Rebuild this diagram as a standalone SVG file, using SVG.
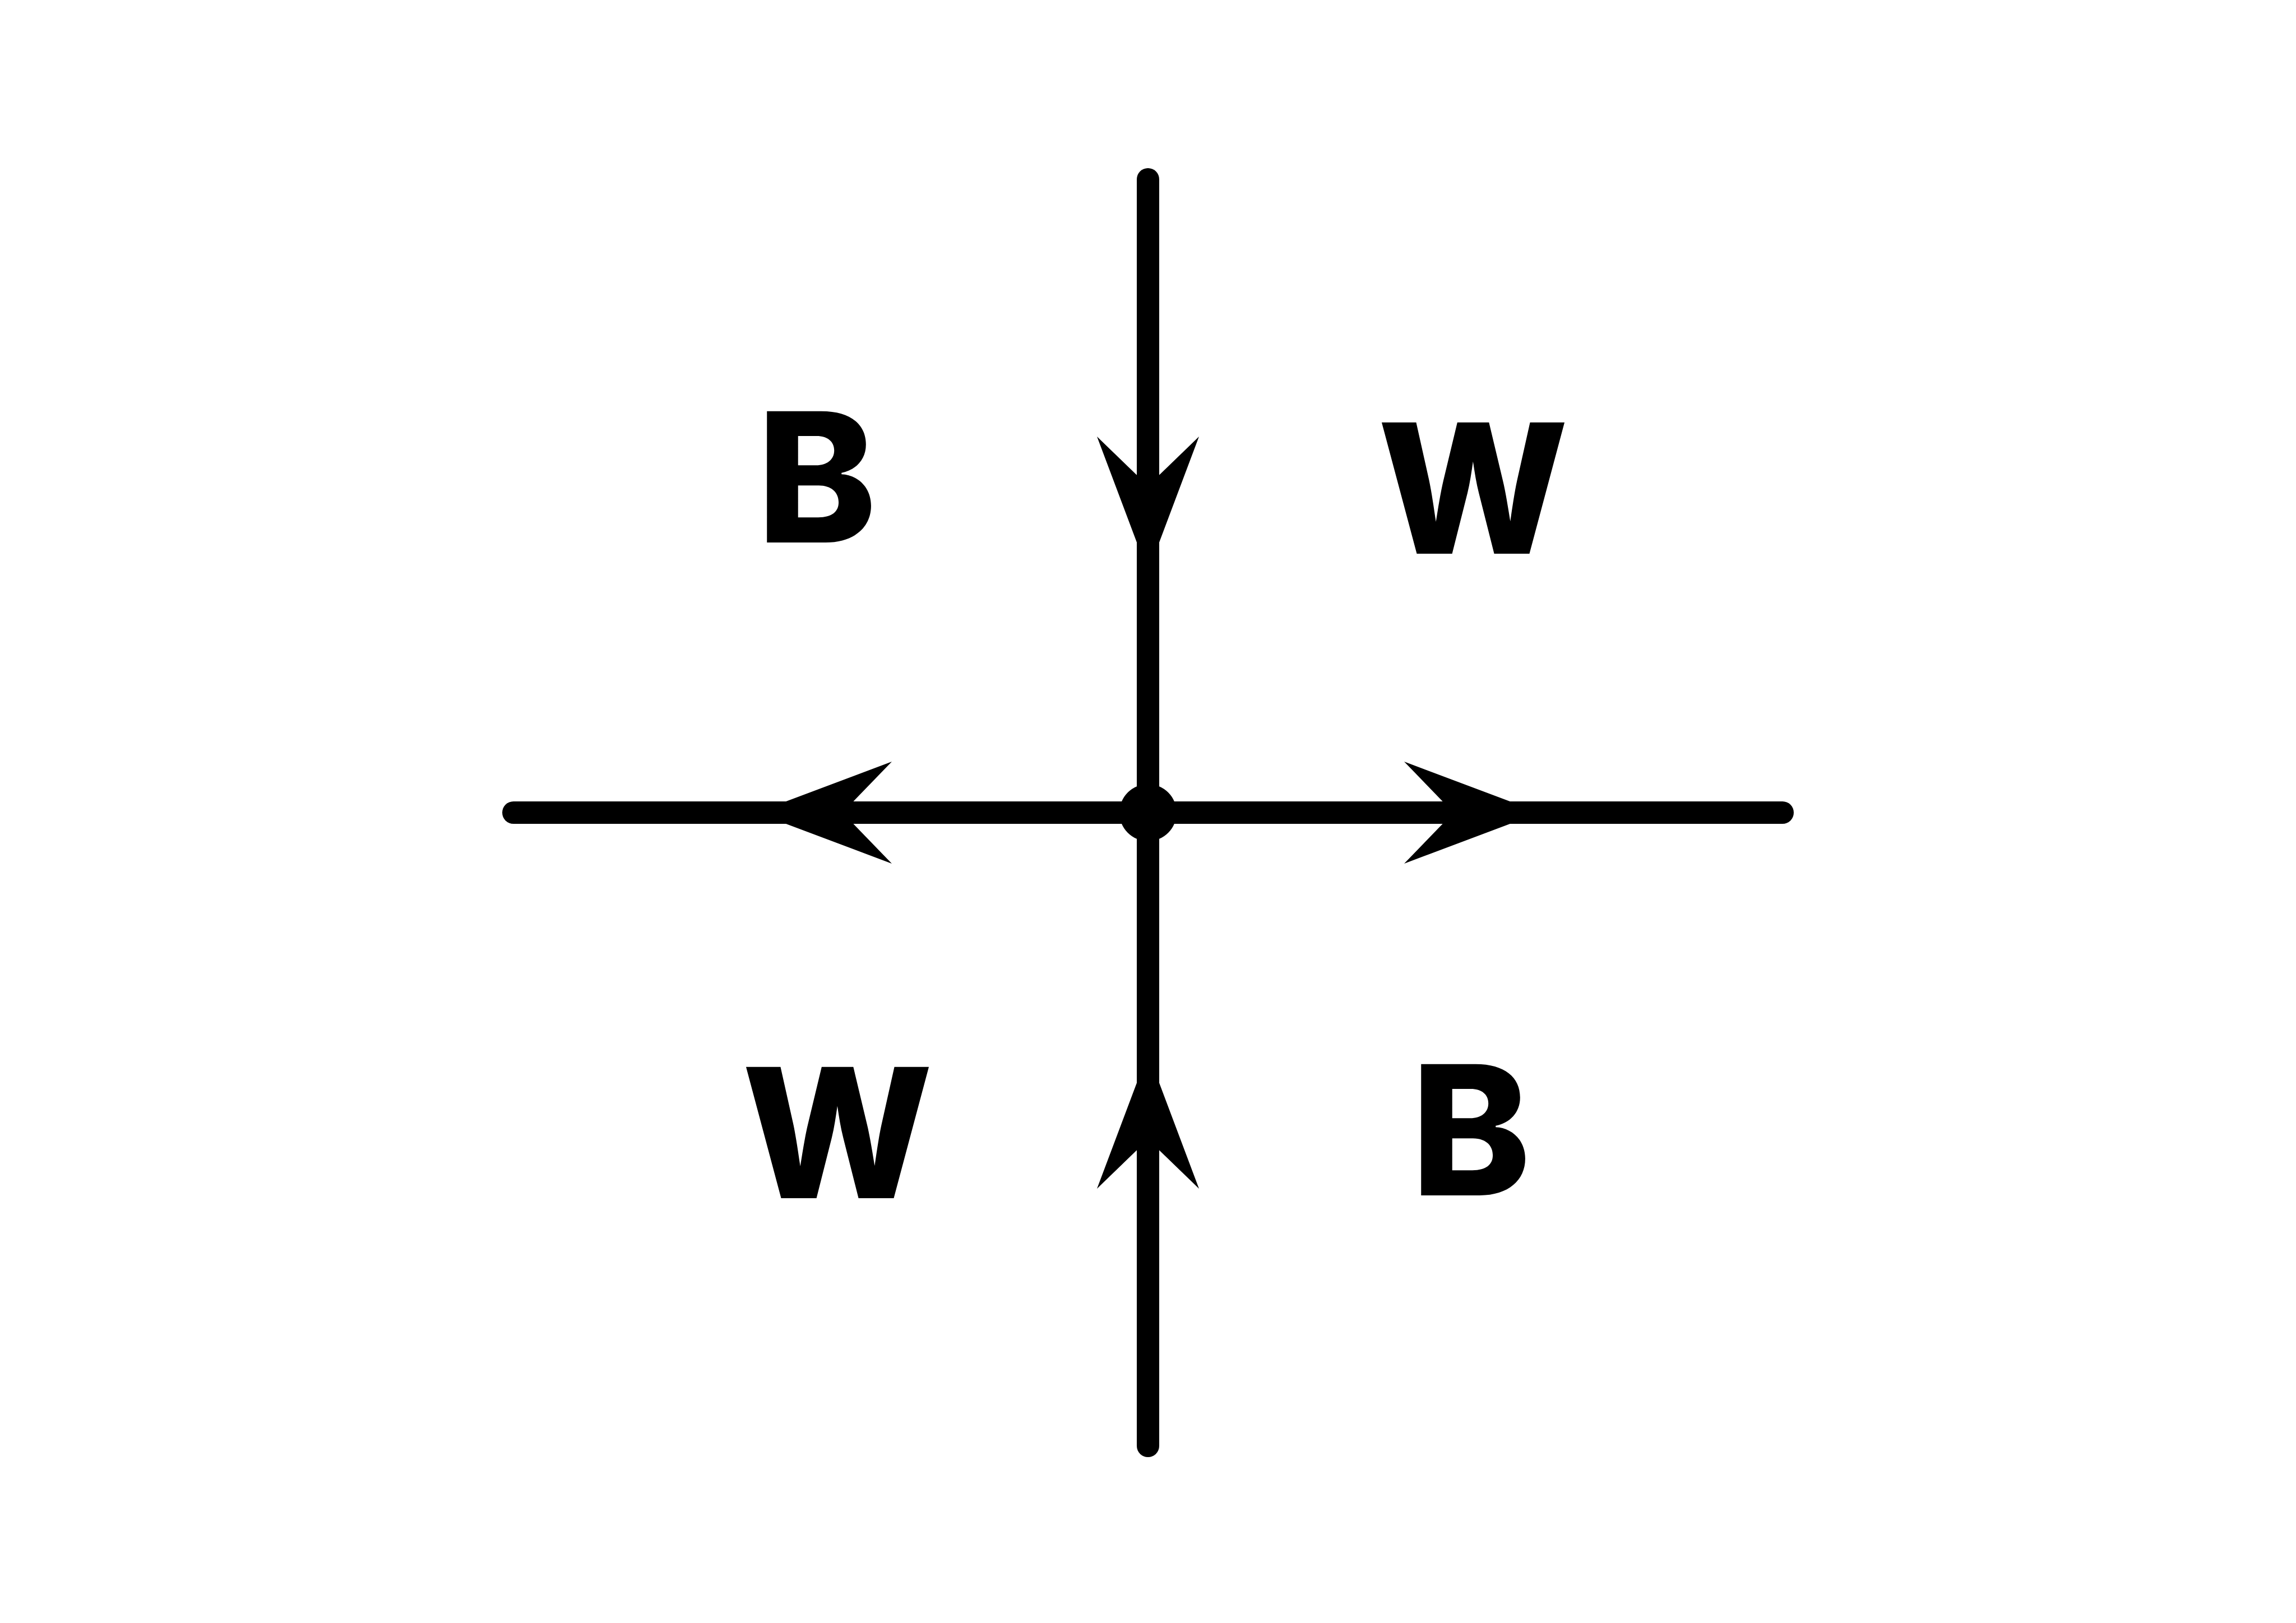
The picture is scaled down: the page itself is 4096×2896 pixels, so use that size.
<svg xmlns="http://www.w3.org/2000/svg" xmlns:xlink="http://www.w3.org/1999/xlink" width="4096" height="2896" viewBox="0 0 4096 2896">
  <style>
    .edge { stroke: #000; stroke-width: 40; stroke-linecap: round; fill: none; }
    .head { fill: #000; }
    .lbl { font-family: Inter, "Liberation Sans", Arial, sans-serif; font-weight: 800; font-size: 322px; fill: #000; text-anchor: middle; }
  </style>
  <defs>
    <polygon id="arrowhead" class="head" points="0,0 -242,-91 -154,0 -242,91"/>
  </defs>
  <rect x="0" y="0" width="4096" height="2896" fill="#fff"/>
  <g id="connectors">
    <line class="edge" x1="2048" y1="320" x2="2048" y2="1450"/>
    <line class="edge" x1="2048" y1="1450" x2="2048" y2="2580"/>
    <line class="edge" x1="916" y1="1450" x2="2048" y2="1450"/>
    <line class="edge" x1="2048" y1="1450" x2="3180" y2="1450"/>
    <use xlink:href="#arrowhead" href="#arrowhead" transform="translate(2048,1021) rotate(90)"/>
    <use xlink:href="#arrowhead" href="#arrowhead" transform="translate(2048,1879) rotate(-90)"/>
    <use xlink:href="#arrowhead" href="#arrowhead" transform="translate(1349,1450) rotate(180)"/>
    <use xlink:href="#arrowhead" href="#arrowhead" transform="translate(2747,1450)"/>
  </g>
  <g id="center">
    <circle cx="2048" cy="1450" r="51" fill="#000"/>
  </g>
  <g id="label-tl"><text class="lbl" x="1457" y="968">B</text></g>
  <g id="label-tr"><text class="lbl" x="2628" y="988">W</text></g>
  <g id="label-bl"><text class="lbl" x="1494" y="2138">W</text></g>
  <g id="label-br"><text class="lbl" x="2624" y="2133">B</text></g>
</svg>
